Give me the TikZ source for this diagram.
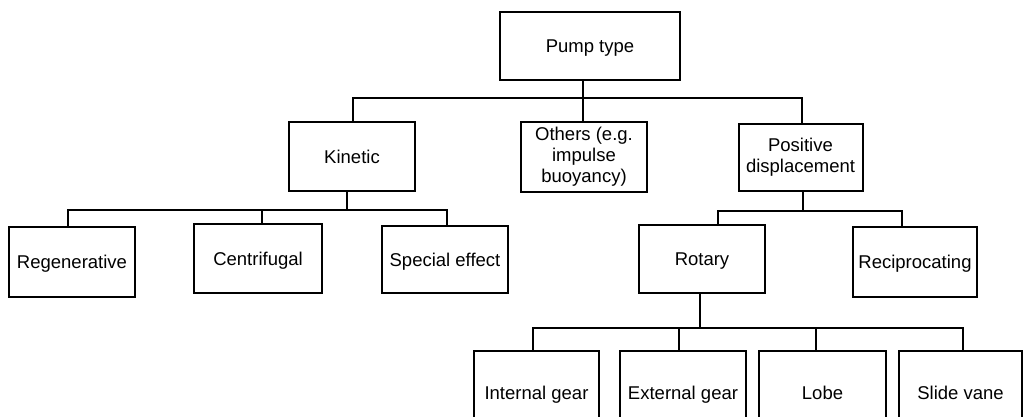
\documentclass[tikz,border=0pt]{standalone}
\usepackage{fontspec}
\setmainfont{Liberation Sans}
\begin{document}
\begin{tikzpicture}[x=1pt,y=-1pt,
  box/.style={draw,line width=2pt,rectangle,inner sep=0pt,align=center,
    font=\fontsize{18.5}{21}\selectfont},
  one/.style={box,text height=13.2pt,text depth=0pt},
  conn/.style={line width=2pt}]
\useasboundingbox (0,0) rectangle (1027,416);
\clip (0,0) rectangle (1027,416);
% level 0
\node[one,minimum width=180pt,minimum height=68pt] (pump) at (590,46) {Pump type};
% level 1
\node[one,minimum width=126pt,minimum height=69pt] (kin) at (352,156.5) {Kinetic};
\node[box,minimum width=126pt,minimum height=70pt] (oth) at (584,157) {Others (e.g.\\impulse\\buoyancy)};
\node[box,minimum width=124pt,minimum height=67pt] (pos) at (800.5,157.5)
  {Positive\\displacement};
% level 2
\node[one,minimum width=126pt,minimum height=70pt] (reg) at (72,262) {Regenerative};
\node[one,minimum width=128pt,minimum height=69pt] (cen) at (258,258.5) {Centrifugal};
\node[one,minimum width=126pt,minimum height=67pt] (spe) at (445,259.5) {Special effect};
\node[one,minimum width=126pt,minimum height=68pt] (rot) at (702,259) {Rotary};
\node[one,minimum width=124pt,minimum height=70pt] (rec) at (915,262) {Reciprocating};
% level 3
\node[one,minimum width=125pt,minimum height=83pt] (int) at (536.5,392.5) {Internal gear};
\node[one,minimum width=126pt,minimum height=83pt] (ext) at (683,392.5) {External gear};
\node[one,minimum width=127pt,minimum height=83pt] (lob) at (822.5,392.5) {Lobe};
\node[one,minimum width=123pt,minimum height=83pt] (sli) at (960.5,392.5) {Slide vane};
% junction coordinates
\coordinate (j0) at (583,98);
\coordinate (j0l) at (353,98);
\coordinate (j0r) at (802,98);
\coordinate (j1) at (347,210);
\coordinate (j1a) at (68,210);
\coordinate (j1b) at (262,210);
\coordinate (j1c) at (447,210);
\coordinate (j2) at (803,211);
\coordinate (j2a) at (718,211);
\coordinate (j2b) at (902,211);
\coordinate (j3) at (700,328);
\coordinate (j3a) at (533,328);
\coordinate (j3b) at (679,328);
\coordinate (j3c) at (816,328);
\coordinate (j3d) at (963,328);
% connectors level 0 -> 1
\draw[conn] (pump.south -| j0) -- (oth.north -| j0);
\draw[conn] (kin.north -| j0l) -- (j0l) -- (j0r) -- (pos.north -| j0r);
% kinetic
\draw[conn] (kin.south -| j1) -- (j1);
\draw[conn] (reg.north -| j1a) -- (j1a) -- (j1c) -- (spe.north -| j1c);
\draw[conn] (cen.north -| j1b) -- (j1b);
% positive displacement
\draw[conn] (pos.south -| j2) -- (j2);
\draw[conn] (rot.north -| j2a) -- (j2a) -- (j2b) -- (rec.north -| j2b);
% rotary
\draw[conn] (rot.south -| j3) -- (j3);
\draw[conn] (int.north -| j3a) -- (j3a) -- (j3d) -- (sli.north -| j3d);
\draw[conn] (ext.north -| j3b) -- (j3b);
\draw[conn] (lob.north -| j3c) -- (j3c);
\end{tikzpicture}
\end{document}
